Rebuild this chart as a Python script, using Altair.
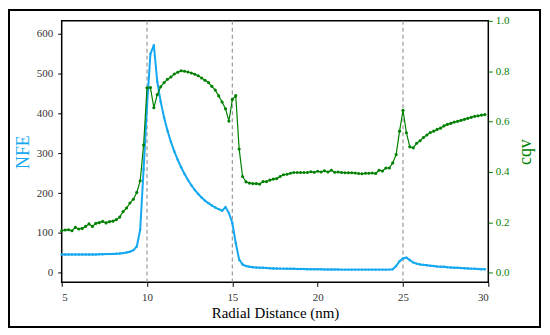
import altair as alt
import pandas as pd

radial_nm = [
    5.0, 5.2, 5.4, 5.6, 5.8, 6.0, 6.2, 6.4, 6.6, 6.8,
    7.0, 7.2, 7.4, 7.6, 7.8, 8.0, 8.2, 8.4, 8.6, 8.8,
    9.0, 9.2, 9.4, 9.6, 9.8, 10.0, 10.2, 10.4, 10.6, 10.8,
    11.0, 11.2, 11.4, 11.6, 11.8, 12.0, 12.2, 12.4, 12.6, 12.8,
    13.0, 13.2, 13.4, 13.6, 13.8, 14.0, 14.2, 14.4, 14.6, 14.8,
    15.0, 15.2, 15.4, 15.6, 15.8, 16.0, 16.2, 16.4, 16.6, 16.8,
    17.0, 17.2, 17.4, 17.6, 17.8, 18.0, 18.2, 18.4, 18.6, 18.8,
    19.0, 19.2, 19.4, 19.6, 19.8, 20.0, 20.2, 20.4, 20.6, 20.8,
    21.0, 21.2, 21.4, 21.6, 21.8, 22.0, 22.2, 22.4, 22.6, 22.8,
    23.0, 23.2, 23.4, 23.6, 23.8, 24.0, 24.2, 24.4, 24.6, 24.8,
    25.0, 25.2, 25.4, 25.6, 25.8, 26.0, 26.2, 26.4, 26.6, 26.8,
    27.0, 27.2, 27.4, 27.6, 27.8, 28.0, 28.2, 28.4, 28.6, 28.8,
    29.0, 29.2, 29.4, 29.6, 29.8,
]

nfe = [
    46, 46, 46, 46, 46, 46, 46, 46, 46, 46,
    46, 46.5, 46.5, 47, 47, 47.5, 48, 48.5, 49.5, 51,
    53, 57, 66, 108, 260, 420, 550, 572, 480, 430,
    390, 357, 329, 305, 284, 265, 248, 233, 220, 208,
    198, 189, 181, 175, 169, 164, 160, 156, 165, 150,
    125, 75, 33, 21, 17, 15, 14, 13.5, 13, 12.5,
    12, 11.5, 11, 11, 10.5, 10.5, 10, 10, 10, 9.5,
    9.5, 9.5, 9, 9, 9, 9, 9, 8.5, 8.5, 8.5,
    8.5, 8.5, 8, 8, 8, 8, 8, 8, 8, 8,
    8, 8, 8, 8, 8, 8, 8, 9, 17, 29,
    36, 38, 32, 26, 23, 21, 20, 19, 18, 17,
    16, 15.5, 15, 14, 13.5, 13, 12.5, 12, 11.5, 11,
    10.5, 10, 9.5, 9, 9,
]

cqv = [
    0.167, 0.170, 0.171, 0.167, 0.180, 0.174, 0.176, 0.184, 0.194, 0.184,
    0.196, 0.199, 0.204, 0.198, 0.203, 0.205, 0.211, 0.221, 0.243, 0.257,
    0.277, 0.292, 0.319, 0.365, 0.507, 0.734, 0.735, 0.655, 0.707, 0.738,
    0.755, 0.768, 0.777, 0.789, 0.796, 0.802, 0.800, 0.797, 0.793, 0.788,
    0.782, 0.773, 0.764, 0.755, 0.740, 0.725, 0.702, 0.678, 0.651, 0.602,
    0.688, 0.703, 0.491, 0.382, 0.361, 0.356, 0.354, 0.354, 0.352, 0.362,
    0.362, 0.368, 0.372, 0.374, 0.382, 0.389, 0.391, 0.395, 0.398, 0.398,
    0.398, 0.398, 0.398, 0.401, 0.399, 0.403, 0.400, 0.405, 0.400, 0.407,
    0.399, 0.400, 0.398, 0.397, 0.397, 0.397, 0.396, 0.394, 0.393, 0.395,
    0.395, 0.396, 0.394, 0.407, 0.404, 0.416, 0.416, 0.436, 0.469, 0.562,
    0.645, 0.556, 0.500, 0.496, 0.514, 0.524, 0.537, 0.547, 0.557, 0.562,
    0.569, 0.574, 0.583, 0.589, 0.593, 0.598, 0.601, 0.605, 0.609, 0.613,
    0.617, 0.621, 0.623, 0.626, 0.628,
]

vlines_nm = [10, 15, 25]
x_ticks = [5, 10, 15, 20, 25, 30]
nfe_ticks = [0, 100, 200, 300, 400, 500, 600]
cqv_ticks = [0.0, 0.2, 0.4, 0.6, 0.8, 1.0]

df = pd.DataFrame({"r": radial_nm, "nfe": nfe, "cqv": cqv})
vdf = pd.DataFrame({"r": vlines_nm})

BLUE = "#14a8f0"
GREEN = "#008000"
FONT = "Liberation Serif"
LABEL = "#333333"


def x_enc():
    return alt.X(
        "r:Q",
        scale=alt.Scale(domain=[5, 30], nice=False, zero=False),
        axis=alt.Axis(
            title="Radial Distance (nm)", values=x_ticks, format="d",
            titleFontSize=15, titlePadding=3, labelPadding=5,
        ),
    )


rules = alt.Chart(vdf).mark_rule(
    color="#999999", strokeDash=[4, 3], strokeWidth=1.2
).encode(x=x_enc())

blue = alt.Chart(df).mark_line(
    color=BLUE, strokeWidth=2,
    point=alt.OverlayMarkDef(color=BLUE, size=6, filled=True),
).encode(
    x=x_enc(),
    y=alt.Y(
        "nfe:Q",
        scale=alt.Scale(domain=[-24, 633], nice=False, zero=False),
        axis=alt.Axis(
            title="NFE", orient="left", values=nfe_ticks, format="d",
            titleColor=BLUE, titleFontSize=18, titlePadding=4, labelPadding=5,
        ),
    ),
)

frame = alt.Chart(pd.DataFrame({"k": [0]})).mark_rect(
    fillOpacity=0, stroke="black", strokeWidth=2
).encode(
    x=alt.value(-53), x2=alt.value(481), y=alt.value(-11), y2=alt.value(308)
)

left = alt.layer(frame, rules, blue)

green = alt.Chart(df).mark_line(
    color=GREEN, strokeWidth=1.2,
    point=alt.OverlayMarkDef(color=GREEN, size=10, filled=True),
).encode(
    x=x_enc(),
    y=alt.Y(
        "cqv:Q",
        scale=alt.Scale(domain=[-0.038, 1.0], nice=False, zero=False),
        axis=alt.Axis(
            title="cqv", orient="right", values=cqv_ticks, format=".1f",
            titleColor=GREEN, titleFontSize=18, titleAngle=270,
            titleBaseline="top", titlePadding=8, labelPadding=3,
            labelColor=GREEN, tickColor=GREEN,
        ),
    ),
)

chart = alt.layer(left, green).resolve_scale(y="independent").properties(
    width=429, height=263,
    padding={"left": 54, "top": 12, "right": 54, "bottom": 47},
    autosize=alt.AutoSizeParams(type="none"),
).configure_view(
    stroke="black", strokeWidth=1.5
).configure_axis(
    grid=False, domain=False, ticks=True, tickSize=4, tickColor="black",
    labelFont=FONT, labelFontSize=11, labelColor=LABEL,
    titleFont=FONT, titleFontWeight="normal", titleColor="black",
)

chart.save("out.html", embed_options={"renderer": "svg", "actions": False})
